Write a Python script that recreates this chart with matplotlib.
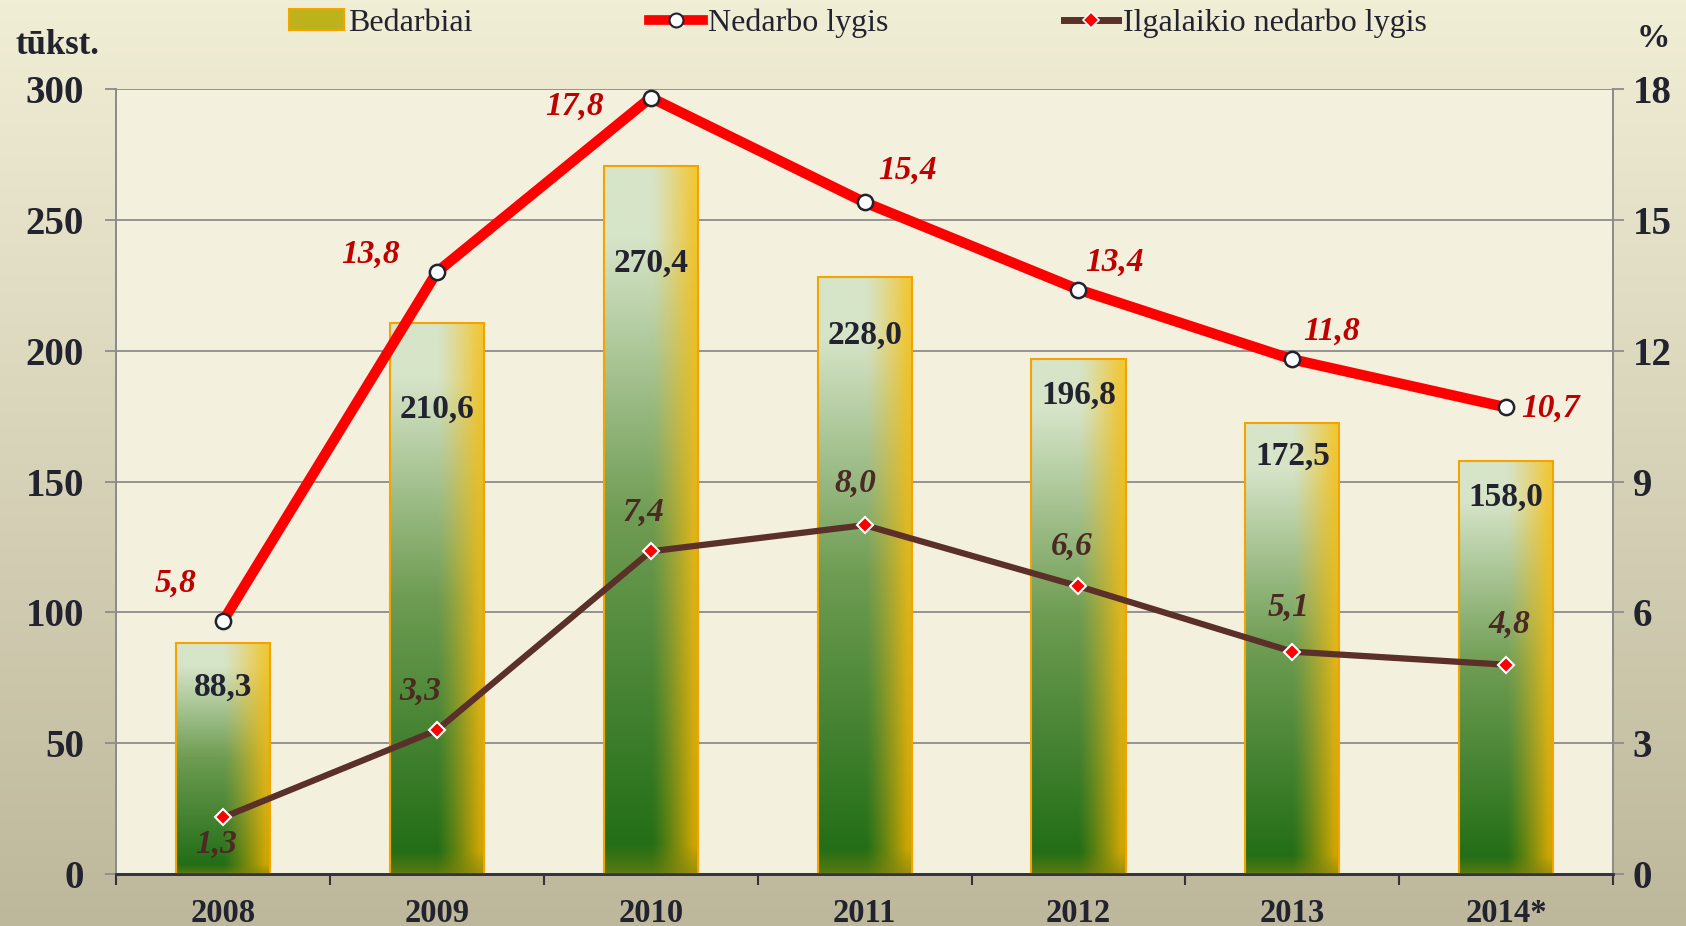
import numpy as np
import matplotlib
matplotlib.use("Agg")
import matplotlib.pyplot as plt
from matplotlib.patches import Rectangle
from matplotlib.lines import Line2D
from matplotlib.colors import to_rgb

years = ["2008", "2009", "2010", "2011", "2012", "2013", "2014*"]
bedarbiai = [88.3, 210.6, 270.4, 228.0, 196.8, 172.5, 158.0]
nedarbo = [5.8, 13.8, 17.8, 15.4, 13.4, 11.8, 10.7]
ilgalaikio = [1.3, 3.3, 7.4, 8.0, 6.6, 5.1, 4.8]

INK = "#23232F"; RED = "#FF0000"; RED_T = "#C00000"; BROWN = "#5A3028"; BROWN_T = "#4A2A22"
plt.rcParams["font.family"] = "Liberation Serif"

fig = plt.figure(figsize=(16.86, 9.26), dpi=100)

# figure background gradient
bg = fig.add_axes([0, 0, 1, 1], zorder=-10)
top = np.array(to_rgb("#F1EED6")); bot = np.array(to_rgb("#BDB89B"))
t = np.linspace(0, 1, 256)[:, None, None]
bg.imshow(top * (1 - t) + bot * t, extent=[0, 1, 0, 1], aspect="auto")
bg.axis("off")

ax = fig.add_axes([0.0688, 0.056, 0.888, 0.848])
ax.set_facecolor("#F3F1DE")
ax2 = ax.twinx()

x = np.arange(len(years))
w = 0.44

# bar gradient: green bottom -> pale top, yellow towards the right edge
ny, nx = 200, 60
tt = np.linspace(0, 1, ny)[:, None]
uu = np.linspace(0, 1, nx)[None, :]
g_dark = np.array(to_rgb("#1D6A12")); g_mid = np.array(to_rgb("#6E9C52")); g_pale = np.array(to_rgb("#D6E4C8"))
def green(tv):
    a = np.clip(tv / 0.5, 0, 1)[..., None]
    b = np.clip((tv - 0.5) / 0.4, 0, 1)[..., None]
    c = g_dark * (1 - a) + g_mid * a
    return c * (1 - b) + g_pale * b
base = np.broadcast_to(green(tt[:, 0])[:, None, :], (ny, nx, 3)).copy()
ywt = np.array(to_rgb("#F2C733")); ywb = np.array(to_rgb("#D4A600"))
yel = ywb * (1 - tt[..., None]) + ywt * tt[..., None]
wgt = (np.clip((uu - 0.5) / 0.45, 0, 1) ** 1.2 * 0.95)[..., None]
img = base * (1 - wgt) + yel * wgt
olive = np.array(to_rgb("#7E8410"))
bw = np.clip((0.04 - tt) / 0.04, 0, 1)[..., None] * 0.6
img = img * (1 - bw) + olive * bw

bar_lab_drop = [17, 33, 37, 22, 14, 13, 14]
for xi, v, d in zip(x, bedarbiai, bar_lab_drop):
    ax.imshow(img, extent=[xi - w / 2, xi + w / 2, 0, v], origin="lower", aspect="auto", zorder=2)
    ax.add_patch(Rectangle((xi - w / 2, 0), w, v, fill=False, edgecolor="#F5A300", lw=1.5, zorder=3))
    ax.text(xi, v - d, f"{v:.1f}".replace(".", ","), ha="center", va="center",
            fontsize=24, fontweight="bold", color=INK, zorder=4)

ax.set_xlim(-0.5, len(years) - 0.5)
ax.set_ylim(0, 300)
ax.set_yticks(np.arange(0, 301, 50))
ax.grid(axis="y", color="#8C8C8C", lw=1.3, zorder=0)
ax.set_axisbelow(True)
ax.set_xticks(x)
ax.set_xticklabels(years)
ax.set_xticks(np.arange(-0.5, len(years), 1), minor=True)
ax.tick_params(axis="x", which="major", length=0, pad=17, labelsize=23.5)
ax.tick_params(axis="x", which="minor", length=8, width=1.5, color="#333333")
ax.tick_params(axis="y", length=8, width=1.3, color="#8C8C8C", labelsize=28, pad=15)
for lab in ax.get_xticklabels() + ax.get_yticklabels():
    lab.set_fontweight("bold"); lab.set_color(INK)

ax2.plot(x, nedarbo, color=RED, lw=7.5, marker="o", ms=11, mfc="white", mec="#23232F", mew=1.8, zorder=5)
ax2.plot(x, ilgalaikio, color=BROWN, lw=4.5, marker="D", ms=8, mfc="#FF0000", mec="white", mew=1.5, zorder=5)
ax2.set_ylim(0, 18)
ax2.set_yticks(np.arange(0, 19, 3))
ax2.tick_params(axis="y", length=8, width=1.3, color="#8C8C8C", labelsize=28, pad=6)
for lab in ax2.get_yticklabels():
    lab.set_fontweight("bold"); lab.set_color(INK)

for a in (ax, ax2):
    a.spines["top"].set_visible(False)
    a.spines["left"].set_color("#8C8C8C"); a.spines["right"].set_color("#8C8C8C")
    a.spines["left"].set_linewidth(1.3); a.spines["right"].set_linewidth(1.3)
    a.spines["bottom"].set_color("#333344"); a.spines["bottom"].set_linewidth(2)

red_off = [(-34, 27), (-48, 13), (-55, -6), (31, 23), (26, 20), (28, 20), (32, -1)]
for xi, v, (dx, dy) in zip(x, nedarbo, red_off):
    ax2.annotate(f"{v:.1f}".replace(".", ","), (xi, v), xytext=(dx, dy), textcoords="offset points",
                 ha="center", va="center", fontsize=24, fontweight="bold", style="italic", color=RED_T, zorder=6)
br_off = [(-5, -19), (-12, 28), (-5, 28), (-7, 30), (-5, 29), (-3, 32), (2, 29)]
for xi, v, (dx, dy) in zip(x, ilgalaikio, br_off):
    ax2.annotate(f"{v:.1f}".replace(".", ","), (xi, v), xytext=(dx, dy), textcoords="offset points",
                 ha="center", va="center", fontsize=24, fontweight="bold", style="italic", color=BROWN_T, zorder=6)

# legend
h_bar = Rectangle((0, 0), 1, 1, facecolor="#BDB21C", edgecolor="#F5A300", lw=1.5)
h_red = Line2D([], [], color=RED, lw=7, marker="o", ms=10, mfc="white", mec="#23232F", mew=1.5)
h_br = Line2D([], [], color=BROWN, lw=5, marker="D", ms=8, mfc="#FF0000", mec="white", mew=1.2)
leg = fig.legend([h_bar, h_red, h_br], ["Bedarbiai", "Nedarbo lygis", "Ilgalaikio nedarbo lygis"],
                 loc="center", bbox_to_anchor=(0.509, 0.975), ncol=3, frameon=False, fontsize=23,
                 handlelength=1.7, handletextpad=0.15, columnspacing=5.5, handleheight=0.6)
for tx in leg.get_texts():
    tx.set_color(INK)

fig.text(0.0089, 0.951, "tūkst.", fontsize=25, fontweight="bold", color=INK, ha="left", va="center")
fig.text(0.9805, 0.958, "%", fontsize=24, fontweight="bold", color=INK, ha="center", va="center")

fig.savefig("out.png", dpi=100)
